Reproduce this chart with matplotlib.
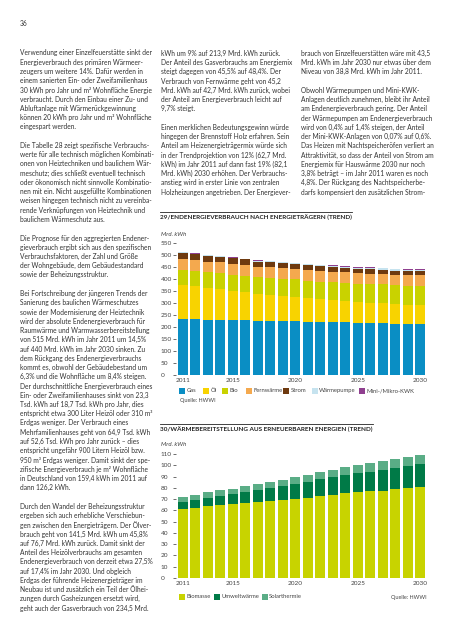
import numpy as np
import matplotlib.pyplot as plt
from matplotlib.lines import Line2D
from matplotlib.patches import Rectangle

W, H = 453, 640
plt.rcParams['font.family'] = ['Lato', 'DejaVu Sans']

# chart 29: Endenergieverbrauch nach Energieträgern (Mrd. kWh)
years = list(range(2011, 2031))
year_ticks = [2011, 2015, 2020, 2025, 2030]
gas = [235, 234, 230, 230, 229, 229, 225, 225, 224, 224, 221, 221, 220, 220, 217, 217, 216, 214, 214, 214]
oel = [141.5, 137, 133, 129, 123, 118, 113, 110, 107, 103, 99, 95, 93, 89, 87, 85, 83, 80, 78, 76.7]
bio = [62.7, 63.5, 64.5, 65.5, 66.5, 67.5, 68.5, 69.5, 70.5, 71.5, 72.5, 73.5, 74.5, 75.5, 76.5, 77.5, 78.5, 79.5, 80.8, 82.1]
fernwaerme = [45.2, 45.0, 44.8, 44.6, 44.4, 44.2, 44.0, 43.9, 43.8, 43.7, 43.6, 43.5, 43.4, 43.3, 43.2, 43.1, 43.0, 42.9, 42.8, 42.7]
strom = [24.7, 24.3, 23.9, 23.5, 23.1, 22.7, 22.3, 21.9, 21.5, 21.1, 20.7, 20.3, 19.9, 19.5, 19.1, 18.7, 18.3, 17.9, 17.3, 16.7]
waermepumpe = [2.1, 2.3, 2.5, 2.7, 2.9, 3.1, 3.3, 3.5, 3.7, 3.9, 4.1, 4.3, 4.5, 4.7, 5.0, 5.2, 5.4, 5.7, 6.0, 6.2]
kwk = [0.4, 0.5, 0.6, 0.7, 0.8, 0.9, 1.0, 1.1, 1.2, 1.3, 1.4, 1.5, 1.6, 1.7, 1.8, 1.9, 2.1, 2.2, 2.4, 2.6]
labels1 = ['Gas', 'Öl', 'Bio', 'Fernwärme', 'Strom', 'Wärmepumpe', 'Mini-/Mikro-KWK']
colors1 = ['#0a8ec4', '#f8d300', '#c9d200', '#f4a94e', '#6e3a0f', '#c6e3ef', '#8f3f8f']
yticks1 = list(range(0, 551, 50))

# chart 30: Wärmebereitstellung aus erneuerbaren Energien (Mrd. kWh)
biomasse = [61.4, 62.5, 64.0, 65.2, 66.0, 67.0, 67.8, 68.7, 69.3, 70.5, 71.1, 73.2, 74.0, 75.8, 76.7, 77.0, 77.6, 79.0, 80.2, 81.1]
umweltwaerme = [6.4, 7.0, 7.4, 8.0, 8.8, 9.3, 10.2, 11.0, 12.2, 13.2, 14.2, 15.0, 15.6, 16.0, 16.5, 17.3, 18.3, 19.0, 19.5, 19.9]
solarthermie = [4.2, 4.3, 4.6, 4.6, 4.6, 5.0, 5.4, 5.6, 5.5, 5.7, 6.3, 5.8, 6.2, 6.8, 7.2, 7.5, 7.6, 7.7, 7.8, 8.1]
labels2 = ['Biomasse', 'Umweltwärme', 'Solarthermie']
colors2 = ['#c8d300', '#007a47', '#5aad86']
yticks2 = list(range(0, 111, 10))

col1 = [
    ["Verwendung einer Einzelfeuerstätte sinkt der",
     "Energieverbrauch des primären Wärmeer-",
     "zeugers um weitere 14%. Dafür werden in",
     "einem sanierten Ein- oder Zweifamilienhaus",
     "30 kWh pro Jahr und m² Wohnfläche Energie",
     "verbraucht. Durch den Einbau einer Zu- und",
     "Abluftanlage mit Wärmerückgewinnung",
     "können 20 kWh pro Jahr und m² Wohnfläche",
     "eingespart werden."],
    ["Die Tabelle 28 zeigt spezifische Verbrauchs-",
     "werte für alle technisch möglichen Kombinati-",
     "onen von Heiztechniken und baulichem Wär-",
     "meschutz; dies schließt eventuell technisch",
     "oder ökonomisch nicht sinnvolle Kombinatio-",
     "nen mit ein. Nicht ausgefüllte Kombinationen",
     "weisen hingegen technisch nicht zu vereinba-",
     "rende Verknüpfungen von Heiztechnik und",
     "baulichem Wärmeschutz aus."],
    ["Die Prognose für den aggregierten Endener-",
     "gieverbrauch ergibt sich aus den spezifischen",
     "Verbrauchsfaktoren, der Zahl und Größe",
     "der Wohngebäude, dem Gebäudestandard",
     "sowie der Beheizungsstruktur."],
    ["Bei Fortschreibung der jüngeren Trends der",
     "Sanierung des baulichen Wärmeschutzes",
     "sowie der Modernisierung der Heiztechnik",
     "wird der absolute Endenergieverbrauch für",
     "Raumwärme und Warmwasserbereitstellung",
     "von 515 Mrd. kWh im Jahr 2011 um 14,5%",
     "auf 440 Mrd. kWh im Jahr 2030 sinken. Zu",
     "dem Rückgang des Endenergieverbrauchs",
     "kommt es, obwohl der Gebäudebestand um",
     "6,3% und die Wohnfläche um 8,4% steigen.",
     "Der durchschnittliche Energieverbrauch eines",
     "Ein- oder Zweifamilienhauses sinkt von 23,3",
     "Tsd. kWh auf 18,7 Tsd. kWh pro Jahr, dies",
     "entspricht etwa 300 Liter Heizöl oder 310 m³",
     "Erdgas weniger. Der Verbrauch eines",
     "Mehrfamilienhauses geht von 64,9 Tsd. kWh",
     "auf 52,6 Tsd. kWh pro Jahr zurück – dies",
     "entspricht ungefähr 900 Litern Heizöl bzw.",
     "950 m³ Erdgas weniger. Damit sinkt der spe-",
     "zifische Energieverbrauch je m² Wohnfläche",
     "in Deutschland von 159,4 kWh im 2011 auf",
     "dann 126,2 kWh."],
    ["Durch den Wandel der Beheizungsstruktur",
     "ergeben sich auch erhebliche Verschiebun-",
     "gen zwischen den Energieträgern. Der Ölver-",
     "brauch geht von 141,5 Mrd. kWh um 45,8%",
     "auf 76,7 Mrd. kWh zurück. Damit sinkt der",
     "Anteil des Heizölverbrauchs am gesamten",
     "Endenergieverbrauch von derzeit etwa 27,5%",
     "auf 17,4% im Jahr 2030. Und obgleich",
     "Erdgas der führende Heizenergieträger im",
     "Neubau ist und zusätzlich ein Teil der Ölhei-",
     "zungen durch Gasheizungen ersetzt wird,",
     "geht auch der Gasverbrauch von 234,5 Mrd."],
]
col2 = [
    ["kWh um 9% auf 213,9 Mrd. kWh zurück.",
     "Der Anteil des Gasverbrauchs am Energiemix",
     "steigt dagegen von 45,5% auf 48,4%. Der",
     "Verbrauch von Fernwärme geht von 45,2",
     "Mrd. kWh auf 42,7 Mrd. kWh zurück, wobei",
     "der Anteil am Energieverbrauch leicht auf",
     "9,7% steigt."],
    ["Einen merklichen Bedeutungsgewinn würde",
     "hingegen der Brennstoff Holz erfahren. Sein",
     "Anteil am Heizenergieträgermix würde sich",
     "in der Trendprojektion von 12% (62,7 Mrd.",
     "kWh) im Jahr 2011 auf dann fast 19% (82,1",
     "Mrd. kWh) 2030 erhöhen. Der Verbrauchs-",
     "anstieg wird in erster Linie von zentralen",
     "Holzheizungen angetrieben. Der Energiever-"],
]
col3 = [
    ["brauch von Einzelfeuerstätten wäre mit 43,5",
     "Mrd. kWh im Jahr 2030 nur etwas über dem",
     "Niveau von 38,8 Mrd. kWh im Jahr 2011."],
    ["Obwohl Wärmepumpen und Mini-KWK-",
     "Anlagen deutlich zunehmen, bleibt ihr Anteil",
     "am Endenergieverbrauch gering. Der Anteil",
     "der Wärmepumpen am Endenergieverbrauch",
     "wird von 0,4% auf 1,4% steigen, der Anteil",
     "der Mini-KWK-Anlagen von 0,07% auf 0,6%.",
     "Das Heizen mit Nachtspeicheröfen verliert an",
     "Attraktivität, so dass der Anteil von Strom am",
     "Energiemix für Hauswärme 2030 nur noch",
     "3,8% beträgt – im Jahr 2011 waren es noch",
     "4,8%. Der Rückgang des Nachtspeicherbe-",
     "darfs kompensiert den zusätzlichen Strom-"],
]

TXT = '#333333'
GREY = '#444444'
FS = 4.8
LH = 9.25

fig = plt.figure(figsize=(W / 100, H / 100), dpi=100)


def fx(x):
    return x / W


def fy(y):
    return 1 - y / H


def put(x, y, s, **kw):
    kw.setdefault('color', TXT)
    kw.setdefault('fontsize', FS)
    kw.setdefault('va', 'center')
    return fig.text(fx(x), fy(y), s, **kw)


def column(x, y0, paras):
    y = y0
    for para in paras:
        for line in para:
            put(x, y, line)
            y += LH
        y += LH


put(20, 24, '36')
column(20, 53, col1)
column(161, 53.3, col2)
column(301, 53.3, col3)


def title(y, s):
    t = put(160, y, s, weight='bold', fontsize=4.6, color='#222222')
    fig.canvas.draw()
    bb = t.get_window_extent()
    fig.add_artist(Line2D([fx(160), fx(bb.x1)], [fy(y - 5.3)] * 2,
                          transform=fig.transFigure, color='#222222', lw=0.6))


def legend(y, xs, labels, colors):
    # colour square + label, placed along one row
    for x0, lab, c in zip(xs, labels, colors):
        fig.add_artist(Rectangle((fx(x0), fy(y + 3)), 6 / W, 6 / H,
                                 transform=fig.transFigure, color=c, lw=0))
        put(x0 + 7.7, y, lab, fontsize=4.2, color=GREY)


def chart(top, bottom, ymax, series, colors, labels, yticks):
    ax = fig.add_axes([fx(176.1), fy(bottom), 250 / W, (bottom - top) / H])
    x = np.arange(len(years))
    base = np.zeros(len(years))
    for vals, c, lab in zip(series, colors, labels):
        ax.bar(x, vals, 0.8, bottom=base, color=c, label=lab, linewidth=0)
        base += np.array(vals)
    ax.set_xlim(-0.55, 19.45)
    ax.set_ylim(0, ymax)
    for s in ax.spines.values():
        s.set_visible(False)
    ax.set_yticks(yticks)
    ax.set_yticklabels([str(v) for v in yticks])
    ax.tick_params(axis='y', length=2, width=0.6, color='#555555',
                   labelsize=4.6, labelcolor=GREY, pad=8.9)
    for lbl in ax.get_yticklabels():
        lbl.set_ha('left')
    ax.set_xticks([years.index(y) for y in year_ticks])
    ax.set_xticklabels([str(y) for y in year_ticks])
    ax.tick_params(axis='x', length=0, labelsize=4.6, labelcolor=GREY, pad=2.2)
    return ax


title(217, '29/ENDENERGIEVERBRAUCH NACH ENERGIETRÄGERN (TREND)')
put(161, 234, 'Mrd. kWh', style='italic', fontsize=4.4, color=GREY)
ax1 = chart(240.6, 375, 560, [gas, oel, bio, fernwaerme, strom, waermepumpe, kwk],
            colors1, labels1, yticks1)
legend(390.7, [179, 203, 222, 246, 283, 311.5, 359], labels1, colors1)
put(180, 400.5, 'Quelle: HWWI', fontsize=4.0, color=GREY)

title(429, '30/WÄRMEBEREITSTELLUNG AUS ERNEUERBAREN ENERGIEN (TREND)')
put(161, 445, 'Mrd. kWh', style='italic', fontsize=4.4, color=GREY)
ax2 = chart(451.8, 578, 112, [biomasse, umweltwaerme, solarthermie],
            colors2, labels2, yticks2)
legend(596.7, [179, 214, 261.5], labels2, colors2)
put(426.5, 597.7, 'Quelle: HWWI', fontsize=4.0, color=GREY, ha='right')

fig.savefig('out.png', dpi=100)
